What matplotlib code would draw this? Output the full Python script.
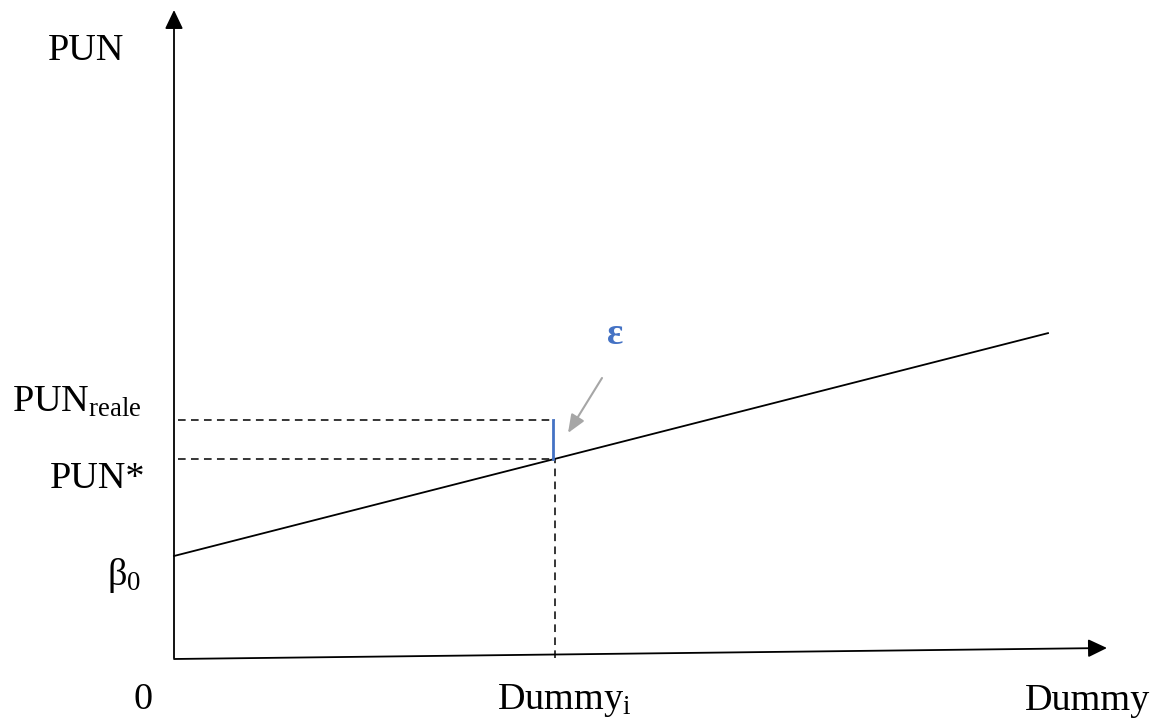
import matplotlib
matplotlib.use("Agg")
import matplotlib.pyplot as plt

#====================1======================
#               parameters
#===========================================
# regression line PUN = beta0 + beta1 * Dummy
beta0     = 1.02
beta1     = 0.255
x_line    = [0.0, 8.74]      # drawn extent of the fitted line
x_i       = 3.81             # observation Dummy_i
pun_reale = 2.38             # observed value at Dummy_i
pun_star  = beta0 + beta1*x_i
# axes extents
x_axis_end = (9.33, 0.10)    # x axis is slightly tilted in the original
y_axis_top = 6.48
# epsilon pointer
eps_from = (4.28, 2.80)
eps_to   = (3.94, 2.25)

labels = {"PUN": "PUN", "reale": r"PUN$_{\mathrm{reale}}$", "star": "PUN*",
          "beta": r"β$_{\mathrm{0}}$", "zero": "0",
          "xi": r"Dummy$_{\mathrm{i}}$", "x": "Dummy", "eps": "ε"}

plt.rcParams['font.family'] = ['Liberation Serif', 'DejaVu Serif']
plt.rcParams['mathtext.fontset'] = 'custom'
plt.rcParams['mathtext.rm'] = 'Liberation Serif'
plt.rcParams['mathtext.it'] = 'Liberation Serif:italic'
plt.rcParams['mathtext.bf'] = 'Liberation Serif:bold'

#====================2======================
#          figure
#===========================================
fig = plt.figure(figsize=(11.59, 7.19), dpi=100)
ax = fig.add_axes([0, 0, 1, 1])
ax.set_xlim(-1.74, 9.85)
ax.set_ylim(-0.61, 6.58)
ax.axis('off')

fs = 27.5
# axes with arrow heads
head = '-|>,head_length=1.15,head_width=0.55'
ax.annotate("", xy=(0, y_axis_top), xytext=(0, 0),
            arrowprops=dict(arrowstyle=head, color='black', lw=1.3,
                            shrinkA=0, shrinkB=0))
ax.annotate("", xy=x_axis_end, xytext=(0, -0.01),
            arrowprops=dict(arrowstyle=head, color='black', lw=1.3,
                            shrinkA=0, shrinkB=0))

# fitted line
ax.plot(x_line, [beta0 + beta1*x for x in x_line], color='black', lw=1.3)

# dashed guides
dash = dict(color='black', lw=1.1, linestyle=(0, (5, 3.5)))
ax.plot([0.04, x_i], [pun_reale, pun_reale], **dash)
ax.plot([0.04, x_i], [pun_star, pun_star], **dash)
ax.plot([x_i, x_i], [0, pun_star], **dash)

# residual
ax.plot([x_i - 0.02, x_i - 0.02], [pun_star, pun_reale], color='#4472C4', lw=2)
ax.annotate("", xy=eps_to, xytext=eps_from,
            arrowprops=dict(arrowstyle='-|>,head_length=1.1,head_width=0.45',
                            color='#A6A6A6', lw=1.5, shrinkA=0, shrinkB=0))
ax.text(4.41, 3.23, labels["eps"], color='#4472C4', fontsize=fs,
        fontweight='bold', ha='center', va='center')

# labels
ax.text(-1.26, 5.98, labels["PUN"], fontsize=fs, ha='left', va='baseline')
ax.text(-1.62, 2.46, labels["reale"], fontsize=fs, ha='left', va='baseline')
ax.text(-0.29, 1.70, labels["star"], fontsize=fs, ha='right', va='baseline')
ax.text(-0.33, 0.73, labels["beta"], fontsize=fs, ha='right', va='baseline')
ax.text(-0.31, -0.51, labels["zero"], fontsize=fs, ha='center', va='baseline')
ax.text(3.23, -0.51, labels["xi"], fontsize=fs, ha='left', va='baseline')
ax.text(9.76, -0.52, labels["x"], fontsize=fs, ha='right', va='baseline')

fig.savefig("out.png", dpi=100)
